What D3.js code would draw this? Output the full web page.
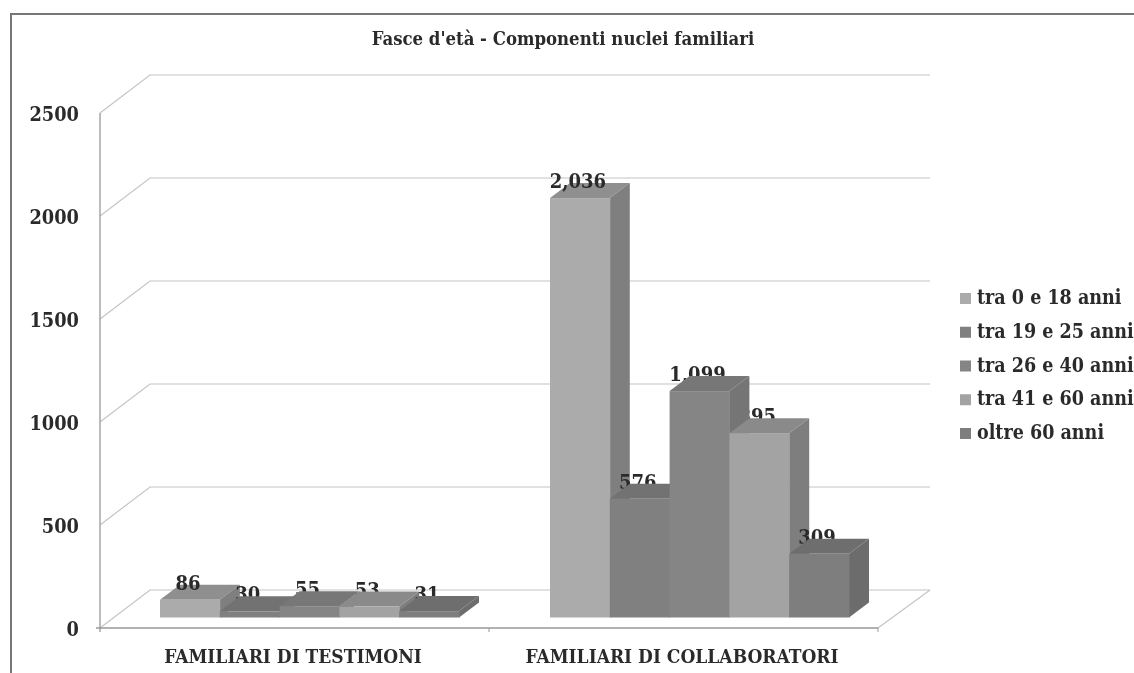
<!DOCTYPE html>
<html><head><meta charset="utf-8">
<script src="https://cdn.jsdelivr.net/npm/d3@7"></script>
<style>html,body{margin:0;background:#fff}svg{display:block}text{font-family:"DejaVu Serif Condensed","DejaVu Serif",serif;font-stretch:condensed;font-weight:bold;fill:#2b2b2b}</style>
</head><body><svg id="c" width="1134" height="673"></svg>
<script>
const title = "Fasce d'età - Componenti nuclei familiari";
const categories = ["FAMILIARI DI TESTIMONI", "FAMILIARI DI COLLABORATORI"];
const seriesNames = ["tra 0 e 18 anni", "tra 19 e 25 anni", "tra 26 e 40 anni", "tra 41 e 60 anni", "oltre 60 anni"];
const testimoni = [86, 30, 55, 53, 31];
const collaboratori = [2036, 576, 1099, 895, 309];
const valueLabels = [["86","30","55","53","31"], ["2,036","576","1,099","895","309"]];
const yTicks = [0, 500, 1000, 1500, 2000, 2500];
const front = ["#ababab", "#808080", "#858585", "#a3a3a3", "#7e7e7e"];
const side  = ["#7f7f7f", "#6e6e6e", "#757575", "#7e7e7e", "#6c6c6c"];
const top_  = ["#8f8f8f", "#727272", "#777777", "#8a8a8a", "#6e6e6e"];

const svg = d3.select("#c");
svg.append("defs").append("filter").attr("id","scan").append("feGaussianBlur").attr("stdDeviation",0.55);
const g = svg.append("g").attr("filter","url(#scan)");

const y = d3.scaleLinear().domain([0,2500]).range([628,113]);
const x = d3.scaleBand().domain(seriesNames).paddingInner(0);
const dx = 50, dy = -38;
const bx = 20, by = -15;
const barLift = -10.5;

g.append("path").attr("d","M11,673V14H1134").attr("fill","none").attr("stroke","#777").attr("stroke-width",2);

yTicks.forEach(t=>{
  g.append("path").attr("fill","none").attr("stroke","#c4c4c4").attr("stroke-width",1.2)
   .attr("d",`M100,${y(t)}L${100+dx},${y(t)+dy}H930`);
});
g.append("path").attr("fill","none").attr("stroke","#c4c4c4").attr("stroke-width",1.2).attr("d",`M878,628L930,${628+dy}`);
g.append("path").attr("fill","none").attr("stroke","#999").attr("stroke-width",1.3).attr("d","M100,113V632M96,628H878");
[489,878].forEach(xx=>g.append("path").attr("stroke","#999").attr("d",`M${xx},628v4`));

const yAxis = d3.axisLeft(y).tickValues(yTicks).tickSize(0).tickPadding(21).tickFormat(d3.format("d"));
const ya = g.append("g").attr("transform","translate(100,1.5)").call(yAxis);
ya.select(".domain").remove();
ya.selectAll("text").attr("font-size",19.8);

// Painting order reproduces how the labels are overlapped by the bars
const paintOrder = [["b",0],["l",1],["b",1],["l",2],["l",3],["b",2],["b",3],["l",4],["b",4],["l",0]];

[testimoni, collaboratori].forEach((vals,ci)=>{
  const x0 = ci===0 ? 160 : 550;
  x.range([x0, x0+299]);
  const w = x.bandwidth();
  const base = 628+barLift;
  const bar = v => base - (y(0)-y(v));
  paintOrder.forEach(([kind,i])=>{
    const v = vals[i], xl = x(seriesNames[i]), t = bar(v);
    if(kind==="b"){
      g.append("path").attr("fill",top_[i]).attr("d",`M${xl},${t}l${bx},${by}h${w}l${-bx},${-by}z`);
      g.append("path").attr("fill",side[i]).attr("d",`M${xl+w},${t}l${bx},${by}V${base+by}l${-bx},${-by}z`);
      g.append("rect").attr("x",xl).attr("y",t).attr("width",w+0.5).attr("height",base-t).attr("fill",front[i]);
    } else {
      g.append("text").attr("x",xl+w/2-2).attr("y",t-10)
        .attr("text-anchor","middle").attr("font-size",20).text(valueLabels[ci][i]);
    }
  });
  g.append("text").attr("x",ci===0?293:682).attr("y",663).attr("text-anchor","middle")
    .attr("font-size",19).text(categories[ci]);
});

g.append("text").attr("x",563).attr("y",45).attr("text-anchor","middle").attr("font-size",18.4).text(title);

const ly = d3.scalePoint().domain(seriesNames).range([298,433]);
seriesNames.forEach((n,i)=>{
  g.append("rect").attr("x",960).attr("y",ly(n)-5).attr("width",11).attr("height",11).attr("fill",front[i]);
  g.append("text").attr("x",977).attr("y",ly(n)+6).attr("font-size",19.5).text(n);
});
</script></body></html>
